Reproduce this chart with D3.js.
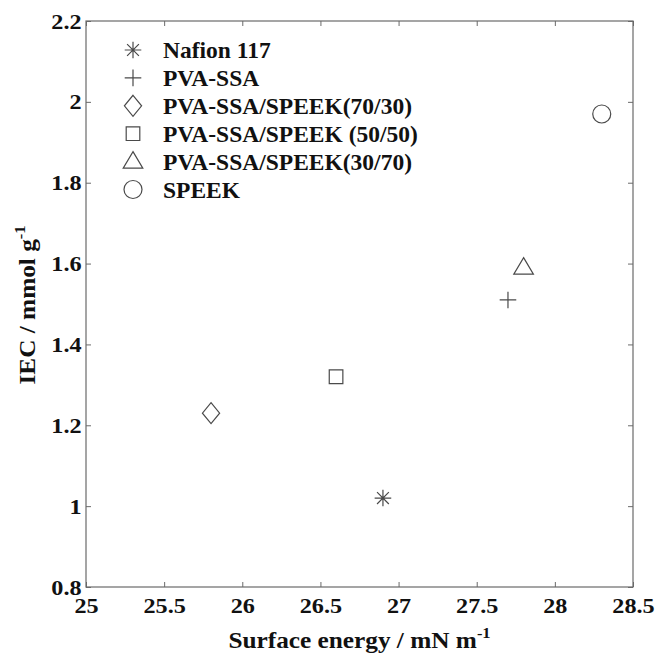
<!DOCTYPE html>
<html>
<head>
<meta charset="utf-8">
<script src="https://cdn.jsdelivr.net/npm/d3@7"></script>
<style>
  body { margin: 0; background: #fff; }
</style>
</head>
<body>
<div id="chart"></div>
<script>
// data
var sampleNames = ["Nafion 117", "PVA-SSA", "PVA-SSA/SPEEK(70/30)", "PVA-SSA/SPEEK (50/50)", "PVA-SSA/SPEEK(30/70)", "SPEEK"];
var surfaceEnergy = [26.9, 27.7, 25.8, 26.6, 27.8, 28.3];
var iecValues = [1.02, 1.51, 1.23, 1.32, 1.59, 1.97];
var markerTypes = ["asterisk", "plus", "diamond", "square", "triangle", "circle"];
var xTicks = [25, 25.5, 26, 26.5, 27, 27.5, 28, 28.5];
var yTicks = [0.8, 1, 1.2, 1.4, 1.6, 1.8, 2, 2.2];

var svgWidth = 656;
var svgHeight = 654;
var margin = { top: 21, right: 23, bottom: 67, left: 86 };
var width = svgWidth - margin.left - margin.right;
var height = svgHeight - margin.top - margin.bottom;

var serif = "'Liberation Serif', 'Times New Roman', Times, serif";
var markColor = "#4a4a4a";
var axisColor = "#6a6a6a";

var svg = d3.select("#chart")
  .append("svg")
  .attr("width", svgWidth)
  .attr("height", svgHeight);

var chartGroup = svg.append("g")
  .attr("transform", `translate(${margin.left}, ${margin.top})`);

var xScale = d3.scaleLinear().domain([25, 28.5]).range([0, width]);
var yScale = d3.scaleLinear().domain([0.8, 2.2]).range([height, 0]);

// marker shapes, centred on 0,0 (MATLAB style)
function markerPath(type) {
  var p = d3.path();
  if (type === "asterisk") {
    var a = 8.3, b = 5.9;
    p.moveTo(0, -a); p.lineTo(0, a);
    p.moveTo(-a, 0); p.lineTo(a, 0);
    p.moveTo(-b, -b); p.lineTo(b, b);
    p.moveTo(-b, b); p.lineTo(b, -b);
  } else if (type === "plus") {
    p.moveTo(0, -8.3); p.lineTo(0, 8.3);
    p.moveTo(-8.3, 0); p.lineTo(8.3, 0);
  } else if (type === "diamond") {
    p.moveTo(0, -10.5); p.lineTo(8.6, 0); p.lineTo(0, 10.5); p.lineTo(-8.6, 0); p.closePath();
  } else if (type === "square") {
    p.rect(-6.8, -6.8, 13.6, 13.6);
  } else if (type === "triangle") {
    p.moveTo(0, -10); p.lineTo(9.8, 6.5); p.lineTo(-9.8, 6.5); p.closePath();
  } else {
    p.arc(0, 0, 9, 0, 2 * Math.PI);
  }
  return p.toString();
}

// axes, ticks pointing inward on all four sides
var bottomAxis = d3.axisBottom(xScale).tickValues(xTicks).tickSize(-5).tickPadding(10).tickFormat(d => d);
var topAxis = d3.axisTop(xScale).tickValues(xTicks).tickSize(-5).tickFormat("");
var leftAxis = d3.axisLeft(yScale).tickValues(yTicks).tickSize(-5).tickPadding(4).tickFormat(d => d);
var rightAxis = d3.axisRight(yScale).tickValues(yTicks).tickSize(-5).tickFormat("");

var xAxis = chartGroup.append("g")
  .attr("transform", `translate(0, ${height})`)
  .call(bottomAxis);
chartGroup.append("g").call(topAxis);
var yAxis = chartGroup.append("g").call(leftAxis);
chartGroup.append("g").attr("transform", `translate(${width}, 0)`).call(rightAxis);

chartGroup.selectAll(".domain").remove();
chartGroup.selectAll(".tick line").attr("stroke", axisColor).attr("stroke-width", 1);
// the source figure's lettering is slightly wider than Times, hence the x stretch
chartGroup.selectAll(".tick text")
  .attr("transform", "scale(1.1,1)")
  .style("font-family", serif)
  .style("font-weight", "bold")
  .style("font-size", "22px")
  .style("fill", "#111");

chartGroup.append("rect")
  .attr("x", 0)
  .attr("y", 0)
  .attr("width", width)
  .attr("height", height)
  .attr("fill", "none")
  .attr("stroke", axisColor)
  .attr("stroke-width", 1.2);

// data points
chartGroup.selectAll(".point")
  .data(sampleNames)
  .enter()
  .append("path")
  .attr("class", "point")
  .attr("transform", (d, i) => `translate(${xScale(surfaceEnergy[i])}, ${yScale(iecValues[i])})`)
  .attr("d", (d, i) => markerPath(markerTypes[i]))
  .attr("fill", "none")
  .attr("stroke", markColor)
  .attr("stroke-width", 1.2);

// legend (no box)
var legend = chartGroup.append("g")
  .attr("transform", "translate(47, 29)");

var legendRows = legend.selectAll(".legend-row")
  .data(sampleNames)
  .enter()
  .append("g")
  .attr("class", "legend-row")
  .attr("transform", (d, i) => `translate(0, ${i * 27.9})`);

legendRows.append("path")
  .attr("d", (d, i) => markerPath(markerTypes[i]))
  .attr("fill", "none")
  .attr("stroke", markColor)
  .attr("stroke-width", 1.2);

legendRows.append("text")
  .attr("x", 30)
  .attr("dy", "0.35em")
  .style("font-family", serif)
  .style("font-weight", "bold")
  .style("font-size", "23.5px")
  .style("fill", "#111")
  .text(d => d);

// axis titles
var xTitle = chartGroup.append("text")
  .attr("transform", `translate(${width / 2}, ${height + 61})scale(1.1,1)`)
  .attr("text-anchor", "middle")
  .style("font-family", serif)
  .style("font-weight", "bold")
  .style("font-size", "23px")
  .style("fill", "#111");
xTitle.append("tspan").text("Surface energy / mN m");
xTitle.append("tspan").attr("dy", -10).style("font-size", "15px").text("-1");

var yTitle = chartGroup.append("text")
  .attr("transform", `translate(-51, ${height / 2 + 1})rotate(-90)scale(1.1,1)`)
  .attr("text-anchor", "middle")
  .style("font-family", serif)
  .style("font-weight", "bold")
  .style("font-size", "23px")
  .style("fill", "#111");
yTitle.append("tspan").text("IEC / mmol g");
yTitle.append("tspan").attr("dy", -10).style("font-size", "15px").text("-1");
</script>
</body>
</html>
